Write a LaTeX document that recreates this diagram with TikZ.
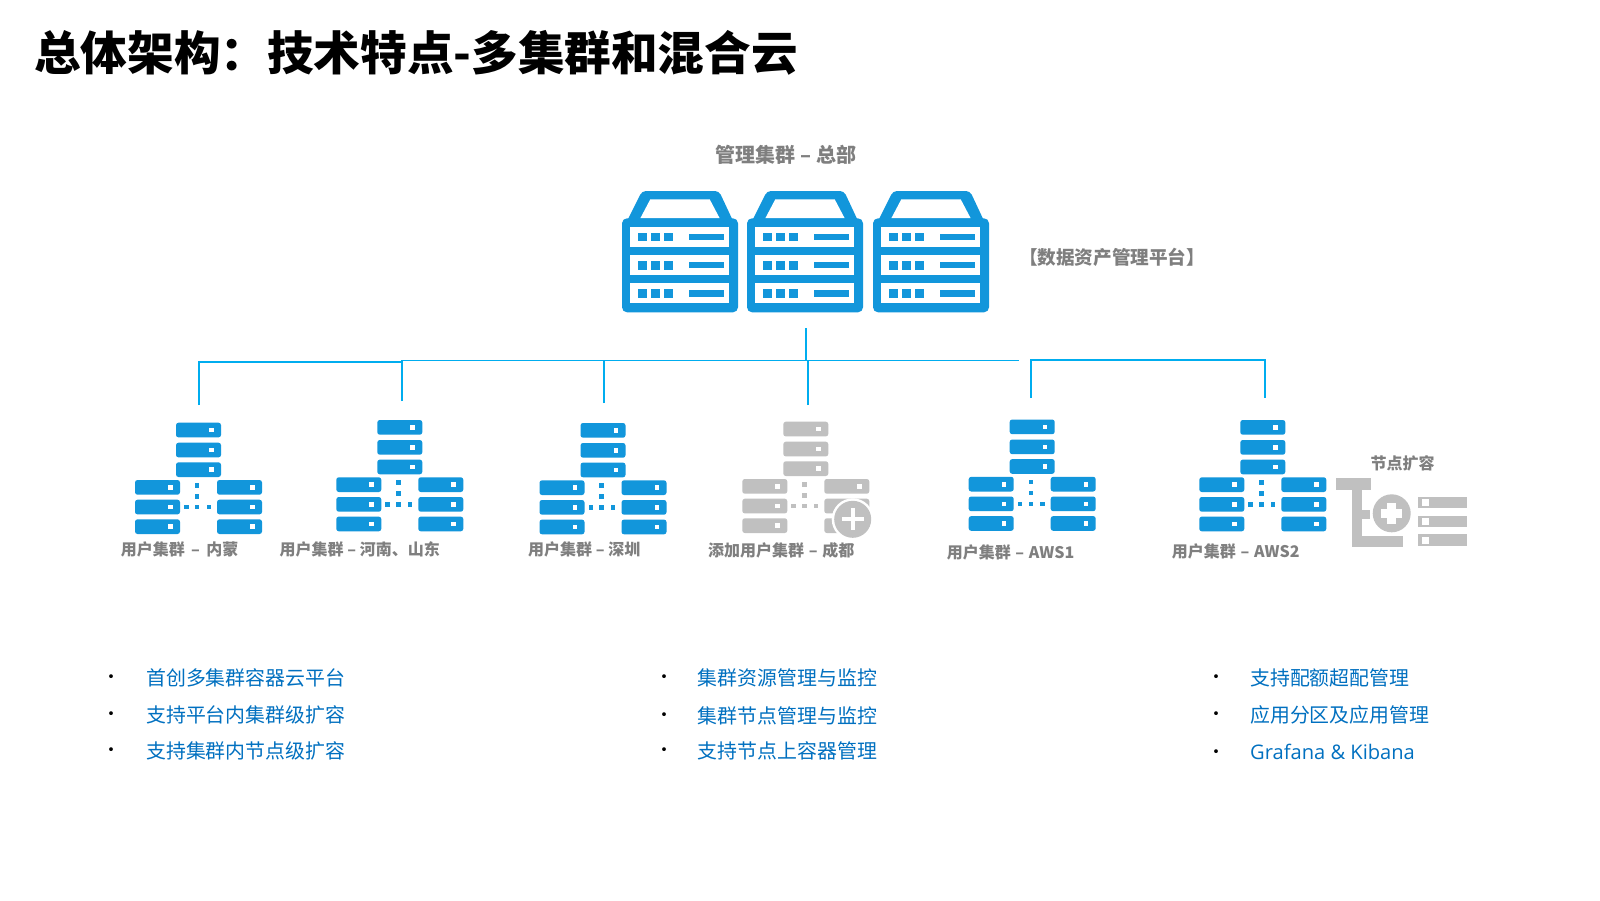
\documentclass[tikz,border=0pt]{standalone}
\usepackage{fontspec}
\setmainfont{Noto Sans CJK SC}
\newfontfamily\latinfont{Open Sans}
\definecolor{srv}{HTML}{1296DB}
\definecolor{lnk}{HTML}{00ADEF}
\definecolor{lbl}{HTML}{7F7F7F}
\definecolor{txt}{HTML}{0070C0}
\definecolor{gry}{HTML}{C0C0C0}
\newcommand{\fs}[1]{\fontsize{#1}{#1}\selectfont}
% server: left, top
\newcommand{\serverbox}[2]{%
\begin{scope}[shift={(#1,#2)}]
 \fill[srv,rounded corners=4] (4,32) -- (20,0) -- (97,0) -- (112,32) -- cycle;
 \fill[white] (18.3,27.3) -- (28.3,8.3) -- (87.7,8.3) -- (97.7,27.3) -- cycle;
 \fill[srv,rounded corners=5] (0,27.3) rectangle (116,121.3);
 \foreach \r in {35.7,64,92.3}{
  \fill[white] (8.3,\r) rectangle (107.3,\r+20);
  \foreach \s in {15.7,28.7,42}{\fill[srv] (\s,\r+6) rectangle (\s+9,\r+14.5);}
  \fill[srv] (67.3,\r+7) rectangle (102.3,\r+13.3);
 }
\end{scope}}
% one bar of a cluster: left, top, colour
\newcommand{\clbar}[3]{%
 \fill[#3,rounded corners=2.5] (#1,#2) rectangle (#1+45,#2+14.7);
 \fill[white] (#1+33,#2+5) rectangle (#1+37.7,#2+9.7);}
% cluster: centre x, top y, colour
\newcommand{\cluster}[3]{%
\begin{scope}[shift={(#1,#2)}]
 \foreach \y in {0,20,39.6}{\clbar{-21}{\y}{#3}}
 \foreach \y in {57.3,77,96.6}{\clbar{-62}{\y}{#3}\clbar{20}{\y}{#3}}
 \foreach \p/\q in {0/62.6,0/73.6,-10.7/84.3,0/84.3,11.7/84.3}{
  \fill[#3] (\p-2.2,\q-2.2) rectangle (\p+2.2,\q+2.2);}
\end{scope}}
\tikzset{
 link/.style={draw=lnk,line width=1.5pt},
 label/.style={anchor=west,inner sep=0,text=lbl,font=\fs{16}\bfseries},
 head/.style={inner sep=0,text=lbl,font=\fs{20}\bfseries},
 bullet/.style={anchor=center,inner sep=0,text=black,font=\fs{18}},
 item/.style={anchor=west,inner sep=0,text=txt,font=\fs{19.9}},
}
\begin{document}
\begin{tikzpicture}[x=1pt,y=-1pt]
\useasboundingbox (0,0) rectangle (1600,900);
\fill[white] (0,0) rectangle (1600,900);
\node[anchor=west,inner sep=0,font=\fs{46.6}\bfseries] (title) at (34,53) {总体架构：技术特点-多集群和混合云};
\node[head] (mgmt) at (786,154.5) {管理集群 – 总部};
\node[anchor=center,inner sep=0,text=lbl,font=\fs{18.6}\bfseries] (platform) at (1112,257) {【数据资产管理平台】};
\serverbox{622}{191}\serverbox{747}{191}\serverbox{873}{191}
% connectors
\coordinate (root) at (806,328);
\coordinate (busc) at (806,360.5);
\coordinate (a0) at (199,362);\coordinate (a1) at (199,405);
\coordinate (b0) at (402,362);\coordinate (b1) at (402,401);
\coordinate (c0) at (604,360.5);\coordinate (c1) at (604,403);
\coordinate (d0) at (808,360.5);\coordinate (d1) at (808,405);
\coordinate (e0) at (1019,361);
\coordinate (f0) at (1031,360);\coordinate (f1) at (1031,398);
\coordinate (g0) at (1265,360);\coordinate (g1) at (1265,398);
\draw[link] (root) -- (busc);
\draw[link] (a1) -- (a0) -- (b0);
\draw[link] (b1) -- (b0 |- busc) -- (e0 |- busc);
\draw[link] (c1) -- (c0);
\draw[link] (d1) -- (d0);
\draw[link] (f1) -- (f0) -- (g0) -- (g1);
% clusters
\cluster{197}{422.7}{srv}
\cluster{398.3}{420}{srv}
\cluster{601.5}{423}{srv}
\cluster{804.3}{421.7}{gry}
\cluster{1030.7}{419.5}{srv}
\cluster{1261.3}{420}{srv}
\fill[white] (852.7,519.3) circle (21);
\fill[gry] (852.7,519.3) circle (18.5);
\fill[white] (841.7,517.3) rectangle (863.7,521.3);
\fill[white] (850.7,508.3) rectangle (854.7,530.3);
% node expansion icon
\fill[gry] (1336,478) rectangle (1371,490);
\fill[gry] (1352,490) rectangle (1361.7,546.7);
\fill[gry] (1352,510) rectangle (1370,519.3);
\fill[gry] (1352,536) rectangle (1403,546.7);
\fill[gry] (1391.7,513.3) circle (19);
\fill[white] (1381.2,508.8) rectangle (1402.2,517.8);
\fill[white] (1387.2,502.8) rectangle (1396.2,523.8);
\foreach \y in {496.7,515.7,534.3}{
 \fill[gry] (1417.7,\y) rectangle (1467,\y+11.7);
 \fill[white] (1421.5,\y+2.5) rectangle (1428.5,\y+9.2);}
% labels
\node[label] (l1) at (120.7,549) {用户集群\, – \,内蒙};
\node[label] (l2) at (279.5,549) {用户集群 – 河南、山东};
\node[label] (l3) at (528,549) {用户集群 – 深圳};
\node[label] (l4) at (708,550) {添加用户集群\kern1pt{} – \kern1pt{}成都};
\node[label] (l5) at (946.6,552) {用户集群\kern1pt{} – \kern1pt{}AWS1};
\node[label] (l6) at (1171.7,551.7) {用户集群\kern1pt{} – \kern1pt{}AWS2};
\node[label] (l7) at (1370.5,463) {节点扩容};
% lists
\node[bullet] (b11) at (111,679) {•};
\node[bullet] (b12) at (111,716) {•};
\node[bullet] (b13) at (111,752) {•};
\node[item] (t11) at (146,677.5) {首创多集群容器云平台};
\node[item] (t12) at (146,714.5) {支持平台内集群级扩容};
\node[item] (t13) at (146,750.5) {支持集群内节点级扩容};
\node[bullet] (b21) at (664,679) {•};
\node[bullet] (b22) at (664,717) {•};
\node[bullet] (b23) at (664,752) {•};
\node[item] (t21) at (697.7,677.5) {集群资源管理与监控};
\node[item] (t22) at (697.7,715.5) {集群节点管理与监控};
\node[item] (t23) at (697.7,750.5) {支持节点上容器管理};
\node[bullet] (b31) at (1216,679) {•};
\node[bullet] (b32) at (1216,716) {•};
\node[bullet] (b33) at (1216,754) {•};
\node[item] (t31) at (1250,677.5) {支持配额超配管理};
\node[item] (t32) at (1250,714.5) {应用分区及应用管理};
\node[item,font=\fs{20.1}\latinfont] (t33) at (1250,752) {Grafana \& Kibana};
\end{tikzpicture}
\end{document}
